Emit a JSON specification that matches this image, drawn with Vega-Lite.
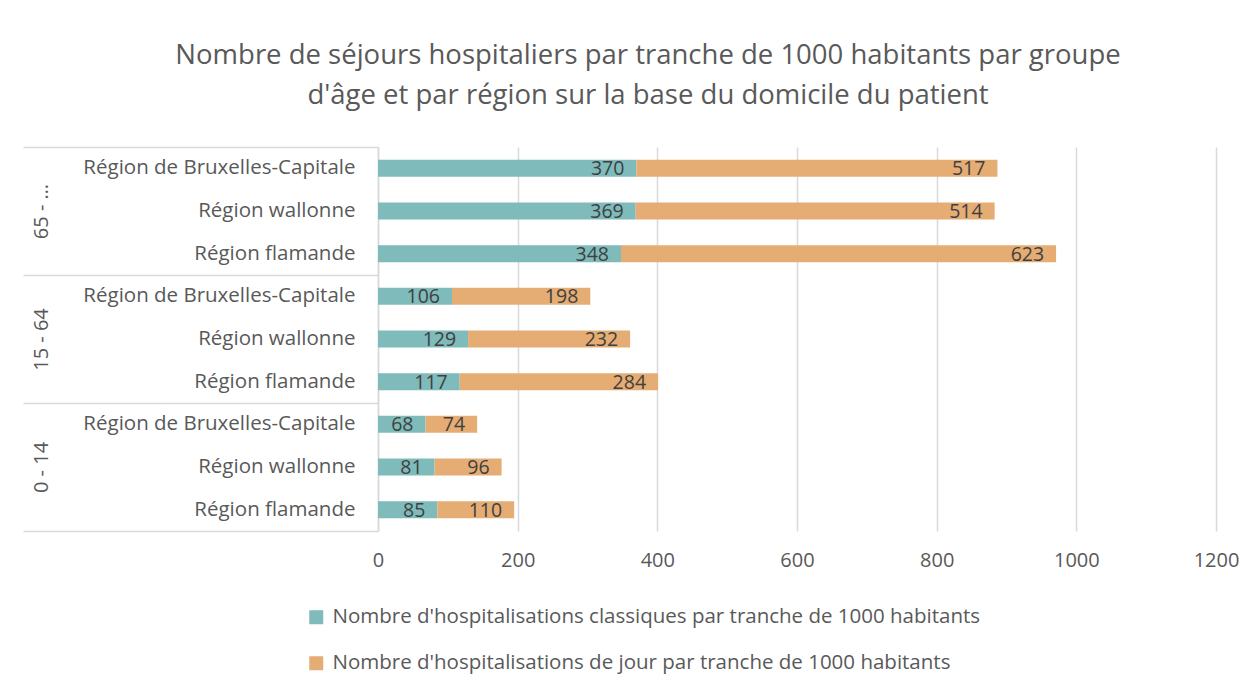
{
  "$schema": "https://vega.github.io/schema/vega-lite/v6.json",
  "width": 838,
  "height": 384,
  "padding": {"left": 22, "top": 41, "right": 0, "bottom": 0},
  "background": "white",
  "title": {
    "text": ["Nombre de séjours hospitaliers par tranche de 1000 habitants par groupe", "d'âge et par région sur la base du domicile du patient"],
    "font": "Open Sans",
    "fontSize": 27.5,
    "fontWeight": "normal",
    "color": "#595959",
    "lineHeight": 40,
    "anchor": "middle",
    "dx": -149,
    "offset": 37
  },
  "config": {
    "view": {"stroke": null},
    "font": "Open Sans"
  },
  "datasets": {
    "bars": [
      {"key": "65 - …|Région de Bruxelles-Capitale", "series": "Nombre d'hospitalisations classiques par tranche de 1000 habitants", "value": 370},
      {"key": "65 - …|Région de Bruxelles-Capitale", "series": "Nombre d'hospitalisations de jour par tranche de 1000 habitants", "value": 517},
      {"key": "65 - …|Région wallonne", "series": "Nombre d'hospitalisations classiques par tranche de 1000 habitants", "value": 369},
      {"key": "65 - …|Région wallonne", "series": "Nombre d'hospitalisations de jour par tranche de 1000 habitants", "value": 514},
      {"key": "65 - …|Région flamande", "series": "Nombre d'hospitalisations classiques par tranche de 1000 habitants", "value": 348},
      {"key": "65 - …|Région flamande", "series": "Nombre d'hospitalisations de jour par tranche de 1000 habitants", "value": 623},
      {"key": "15 - 64|Région de Bruxelles-Capitale", "series": "Nombre d'hospitalisations classiques par tranche de 1000 habitants", "value": 106},
      {"key": "15 - 64|Région de Bruxelles-Capitale", "series": "Nombre d'hospitalisations de jour par tranche de 1000 habitants", "value": 198},
      {"key": "15 - 64|Région wallonne", "series": "Nombre d'hospitalisations classiques par tranche de 1000 habitants", "value": 129},
      {"key": "15 - 64|Région wallonne", "series": "Nombre d'hospitalisations de jour par tranche de 1000 habitants", "value": 232},
      {"key": "15 - 64|Région flamande", "series": "Nombre d'hospitalisations classiques par tranche de 1000 habitants", "value": 117},
      {"key": "15 - 64|Région flamande", "series": "Nombre d'hospitalisations de jour par tranche de 1000 habitants", "value": 284},
      {"key": "0 - 14|Région de Bruxelles-Capitale", "series": "Nombre d'hospitalisations classiques par tranche de 1000 habitants", "value": 68},
      {"key": "0 - 14|Région de Bruxelles-Capitale", "series": "Nombre d'hospitalisations de jour par tranche de 1000 habitants", "value": 74},
      {"key": "0 - 14|Région wallonne", "series": "Nombre d'hospitalisations classiques par tranche de 1000 habitants", "value": 81},
      {"key": "0 - 14|Région wallonne", "series": "Nombre d'hospitalisations de jour par tranche de 1000 habitants", "value": 96},
      {"key": "0 - 14|Région flamande", "series": "Nombre d'hospitalisations classiques par tranche de 1000 habitants", "value": 85},
      {"key": "0 - 14|Région flamande", "series": "Nombre d'hospitalisations de jour par tranche de 1000 habitants", "value": 110}
    ],
    "groups": [
      {"group": "65 - …"},
      {"group": "15 - 64"},
      {"group": "0 - 14"}
    ]
  },
  "layer": [
    {
      "data": {"name": "bars"},
      "encoding": {
        "y": {
          "field": "key",
          "type": "nominal",
          "sort": ["65 - …|Région de Bruxelles-Capitale", "65 - …|Région wallonne", "65 - …|Région flamande", "15 - 64|Région de Bruxelles-Capitale", "15 - 64|Région wallonne", "15 - 64|Région flamande", "0 - 14|Région de Bruxelles-Capitale", "0 - 14|Région wallonne", "0 - 14|Région flamande"],
          "scale": {"paddingInner": 0.6, "paddingOuter": 0.3},
          "axis": {
            "title": null,
            "labelExpr": "split(datum.value, '|')[1]",
            "ticks": false,
            "domain": false,
            "grid": false,
            "labelPadding": 23,
            "labelLimit": 400,
            "labelFontSize": 20.5,
            "labelFont": "Open Sans",
            "labelColor": "#595959"
          }
        },
        "x": {
          "field": "value",
          "type": "quantitative",
          "stack": "zero",
          "scale": {"domain": [0, 1200], "nice": false},
          "axis": {
            "title": null,
            "values": [0, 200, 400, 600, 800, 1000, 1200],
            "format": "d",
            "labelFlush": false,
            "domain": false,
            "ticks": false,
            "grid": true,
            "gridColor": "#d9d9d9",
            "gridWidth": 1.5,
            "labelPadding": 19,
            "labelFontSize": 20,
            "labelFont": "Open Sans",
            "labelColor": "#595959"
          }
        }
      },
      "layer": [
        {
          "mark": {"type": "bar"},
          "encoding": {
            "color": {
              "field": "series",
              "type": "nominal",
              "scale": {
                "domain": ["Nombre d'hospitalisations classiques par tranche de 1000 habitants", "Nombre d'hospitalisations de jour par tranche de 1000 habitants"],
                "range": ["#7EBBBA", "#E5AC74"]
              },
              "legend": {
                "title": null,
                "orient": "none",
                "legendX": -72,
                "legendY": 460,
                "direction": "vertical",
                "symbolType": "square",
                "symbolSize": 196,
                "symbolStrokeWidth": 0,
                "labelFontSize": 20.5,
                "labelFont": "Open Sans",
                "labelColor": "#595959",
                "labelOffset": 6,
                "labelLimit": 1000,
                "rowPadding": 25
              }
            }
          }
        },
        {
          "mark": {"type": "text", "align": "right", "baseline": "middle", "dx": -12, "dy": 1, "fontSize": 19.5, "font": "Open Sans", "color": "#404040"},
          "encoding": {
            "text": {"field": "value", "type": "quantitative"},
            "detail": {"field": "series", "type": "nominal"}
          }
        }
      ]
    },
    {
      "data": {"name": "groups"},
      "mark": {"type": "point", "opacity": 0},
      "encoding": {
        "y": {
          "field": "group",
          "type": "nominal",
          "sort": ["65 - …", "15 - 64", "0 - 14"],
          "scale": {"paddingInner": 0, "paddingOuter": 0},
          "axis": {
            "orient": "left",
            "title": null,
            "grid": false,
            "tickBand": "extent",
            "tickExtra": true,
            "tickSize": 355,
            "tickColor": "#d9d9d9",
            "tickWidth": 1.5,
            "domain": true,
            "domainColor": "#d9d9d9",
            "domainWidth": 1.5,
            "labelAngle": -90,
            "labelAlign": "center",
            "labelBaseline": "middle",
            "labelPadding": -18,
            "labelFontSize": 20,
            "labelFont": "Open Sans",
            "labelColor": "#595959"
          }
        }
      }
    }
  ],
  "resolve": {"scale": {"y": "independent"}}
}
